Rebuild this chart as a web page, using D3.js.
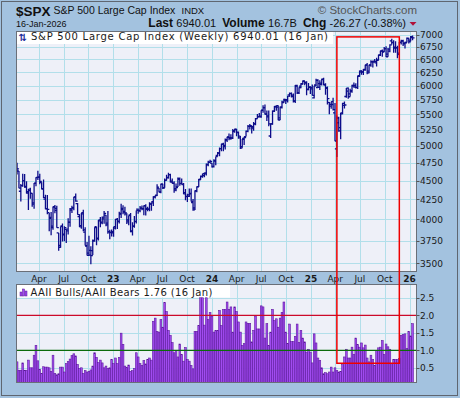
<!DOCTYPE html>
<html>
<head>
<meta charset="utf-8">
<script src="https://cdn.jsdelivr.net/npm/d3@7"></script>
<style>
	body { margin: 0; background: #a3c2df; }
	svg { display: block; }
	.ax { font-family: "DejaVu Sans", sans-serif; font-size: 9px; fill: #1a1a1a; }
	.hd { font-family: "Liberation Sans", Arial, sans-serif; fill: #111; }
</style>
</head>
<body>
<svg width="460" height="398"></svg>
<script>
// data.........................................................................

// weekly S&P 500 bars [open, high, low, close], one row per week (Fridays)
var ohlc2022 = [
	[4669,4749,4582,4662],[4632,4632,4395,4398],[4356,4453,4222,4432],[4432,4595,4415,4500],
	[4500,4590,4401,4419],[4412,4490,4327,4349],[4333,4386,4115,4385],[4364,4402,4257,4329],
	[4327,4328,4157,4204],[4188,4465,4129,4463],[4462,4546,4424,4543],[4541,4637,4506,4546],
	[4547,4593,4450,4488],[4474,4478,4381,4392],[4385,4513,4268,4272],[4253,4309,4124,4132],
	[4130,4308,4063,4123],[4082,4082,3859,4024],[4013,4090,3811,3901],[3919,4158,3876,4158],
	[4151,4177,4074,4109],[4134,4168,3900,3901],[3838,3838,3637,3675],[3695,3913,3669,3912],
	[3920,3950,3739,3825],[3815,3918,3743,3899],[3880,3880,3722,3863],[3883,4012,3819,3962],
	[3965,4140,3911,4130],[4112,4167,4079,4145],[4140,4280,4112,4280],[4282,4325,4218,4228],
	[4195,4203,4057,4058],[4034,4062,3907,3924],[3910,4076,3887,4067],[4083,4119,3857,3873],
	[3848,3906,3693,3693],[3689,3734,3584,3586],[3610,3806,3585,3639],[3588,3685,3491,3583],
	[3638,3763,3590,3752],[3745,3905,3738,3901],[3911,3912,3698,3771],[3779,3993,3751,3993],
	[3982,4029,3906,3965],[3956,4034,3940,4026],[4006,4101,3948,4072],[4052,4052,3918,3934],
	[3954,4101,3828,3852],[3853,3876,3764,3845],[3843,3878,3796,3840]
];
var ohlc2023 = [
	[3853,3907,3795,3895],[3911,4003,3877,3999],[3999,4015,3885,3973],[3978,4094,3949,4071],
	[4065,4195,4015,4136],[4119,4176,4061,4090],[4096,4156,4048,4079],[4066,4073,3944,3970],
	[3992,4048,3928,4046],[4055,4079,3847,3862],[3855,3964,3808,3917],[3917,4039,3899,3971],
	[3975,4110,3949,4109],[4125,4134,4069,4105],[4110,4164,4086,4138],[4139,4170,4113,4133],
	[4130,4170,4049,4169],[4167,4187,4048,4136],[4124,4155,4098,4124],[4126,4213,4099,4192],
	[4190,4213,4104,4205],[4220,4290,4166,4282],[4282,4299,4261,4299],[4304,4448,4293,4410],
	[4397,4400,4342,4348],[4344,4456,4328,4450],[4450,4456,4385,4399],[4405,4527,4401,4505],
	[4502,4579,4502,4536],[4543,4607,4528,4582],[4580,4595,4474,4478],[4492,4527,4458,4464],
	[4460,4490,4335,4370],[4389,4458,4356,4406],[4415,4541,4414,4516],[4530,4542,4430,4457],
	[4460,4527,4448,4450],[4445,4466,4317,4320],[4338,4385,4238,4288],[4285,4324,4216,4309],
	[4289,4394,4282,4327],[4321,4393,4223,4224],[4207,4256,4104,4117],[4140,4366,4114,4358],
	[4365,4420,4342,4415],[4418,4521,4411,4514],[4514,4568,4511,4559],[4554,4595,4537,4595],
	[4569,4610,4546,4604],[4593,4739,4568,4719],[4725,4778,4700,4755],[4758,4793,4751,4770]
];
var ohlc2024 = [
	[4745,4745,4682,4697],[4690,4802,4683,4784],[4772,4842,4714,4840],[4856,4907,4845,4891],
	[4892,4975,4845,4959],[4957,5030,4918,5027],[5026,5048,4920,5006],[4989,5111,4946,5089],
	[5093,5140,5057,5137],[5132,5190,5085,5124],[5112,5180,5094,5117],[5123,5262,5104,5234],
	[5220,5265,5204,5254],[5258,5264,5146,5204],[5211,5222,5107,5123],[5149,5151,4953,4967],
	[4987,5106,4971,5100],[5114,5139,5012,5128],[5142,5239,5142,5223],[5225,5325,5212,5303],
	[5305,5342,5256,5305],[5316,5317,5192,5278],[5298,5375,5234,5347],[5341,5441,5324,5432],
	[5432,5506,5432,5465],[5459,5524,5448,5460],[5471,5570,5446,5567],[5572,5655,5529,5615],
	[5614,5670,5497,5505],[5505,5566,5391,5459],[5476,5566,5306,5346],[5151,5350,5119,5344],
	[5344,5564,5331,5554],[5557,5643,5540,5634],[5630,5651,5560,5648],[5623,5651,5403,5408],
	[5442,5636,5407,5626],[5615,5733,5601,5703],[5711,5767,5697,5738],[5757,5765,5675,5751],
	[5737,5822,5705,5815],[5838,5878,5805,5864],[5857,5879,5790,5808],[5833,5862,5702,5729],
	[5725,6012,5696,5995],[6008,6018,5853,5870],[5875,5972,5853,5969],[5993,6044,5957,6032],
	[6040,6099,6021,6090],[6083,6086,6011,6051],[6064,6085,5832,5931],[5941,6050,5921,5970]
];
var ohlc2025 = [
	[5979,5993,5853,5942],[5969,6021,5827,5827],[5782,6000,5773,5997],[6014,6129,5997,6101],
	[5969,6120,5962,6040],[5970,6101,5924,6026],[6047,6127,6003,6115],[6121,6147,6009,6013],
	[6026,6044,5838,5955],[5968,5987,5667,5770],[5705,5712,5505,5639],[5669,5716,5597,5668],
	[5718,5787,5567,5581],[5527,5695,5069,5074],[4954,5482,4835,5363],[5441,5460,5220,5283],
	[5232,5528,5101,5525],[5510,5700,5505,5687],[5655,5720,5598,5660],[5808,5959,5786,5958],
	[5902,5969,5768,5803],[5855,5944,5809,5912],[5896,6017,5875,6000],[6005,6060,5963,5977],
	[6005,6044,5952,5968],[5970,6187,5943,6173],[6188,6284,6168,6279],[6256,6290,6202,6260],
	[6256,6315,6201,6297],[6304,6395,6281,6389],[6393,6428,6212,6238],[6271,6395,6233,6389],
	[6391,6481,6358,6450],[6456,6478,6343,6467],[6449,6509,6434,6460],[6432,6533,6360,6482],
	[6490,6592,6482,6584],[6588,6672,6567,6664],[6672,6700,6552,6644],[6659,6750,6649,6716],
	[6716,6765,6550,6553],[6606,6731,6551,6664],[6708,6807,6645,6792],[6876,6920,6800,6840],
	[6843,6890,6631,6729],[6744,6870,6631,6734],[6737,6776,6521,6603],[6624,6853,6580,6849],
	[6840,6900,6800,6870],[6880,6901,6770,6827],[6815,6860,6720,6835],[6845,6945,6840,6930]
];
var ohlc2026 = [
	[6928,6940,6820,6858],[6890,6980,6870,6966],[6945,6990,6890,6940]
];

// AAII bulls / AAII bears ratio, same weeks
var aaii2022 = [
	0.67,0.43,0.43,0.64,0.43,0.43,0.72,0.50,0.50,0.86,1.14,0.70,0.46,0.34,0.53,0.52,0.52,
	0.50,0.40,0.86,0.34,0.30,0.33,0.52,0.52,0.38,0.62,0.68,0.75,0.85,0.90,0.84,0.60,0.48,
	0.50,0.34,0.42,0.38,0.40,0.44,0.55,0.93,0.80,0.65,0.72,0.64,0.50,0.55,0.48,0.50,0.74
];
var aaii2023 = [
	0.62,0.78,0.62,0.80,1.49,1.17,0.55,0.51,0.58,0.40,0.42,0.48,0.93,0.81,0.62,0.57,0.71,
	0.61,0.74,0.78,0.72,1.83,1.92,1.54,1.52,1.88,1.66,2.36,2.11,1.57,1.43,1.22,0.93,0.99,
	0.81,1.18,0.88,0.69,1.08,0.74,0.69,0.57,0.47,1.54,1.54,1.71,2.50,2.50,1.72,2.50,1.88,2.08
];
var aaii2024 = [
	1.98,1.52,1.56,1.56,2.14,1.71,2.17,2.17,2.38,2.17,2.24,1.52,2.24,2.11,1.81,1.52,1.14,
	1.19,1.81,1.77,1.77,1.24,1.57,1.98,1.61,1.61,2.27,2.24,1.35,1.76,1.14,1.52,2.17,1.85,
	1.90,1.66,1.92,2.08,2.38,1.52,1.19,1.75,1.25,1.25,1.40,1.75,1.22,1.57,1.35,1.24,0.95,1.03
];
var aaii2025 = [
	0.95,0.64,1.47,1.21,0.78,0.71,0.50,0.33,0.36,0.33,0.38,0.52,0.38,0.50,0.42,0.38,0.40,
	0.59,0.81,1.03,0.78,0.78,1.09,0.88,1.35,1.16,1.09,1.21,1.07,1.15,0.78,0.67,0.86,0.74,
	0.57,1.00,1.07,1.09,1.28,0.88,1.18,1.10,1.03,0.63,0.74,0.74,0.74,0.76,1.43,1.45,1.47,1.05
];
var aaii2026 = [1.54, 1.41, 1.76];

var priceTicks = [3500,3750,4000,4250,4500,4750,5000,5250,5500,5750,6000,6250,6500,6750,7000];
var ratioTicks = [0.5, 1.0, 1.5, 2.0, 2.5];
var ratioLines = [{v: 2.0, color: "#cc0a2a"}, {v: 1.0, color: "#0b6b0b"}];

// layout.......................................................................

var svg = d3.select("svg"),
	L = 16.5, R = 416.5,
	T1 = 31.5, B1 = 271.5,
	T2 = 284.5, B2 = 382.5,
	gridColor = "#b2dfea";

var weeks = d3.timeFriday.range(new Date(2022, 0, 14), new Date(2026, 0, 17)),
	ohlc = [].concat(ohlc2022, ohlc2023, ohlc2024, ohlc2025, ohlc2026),
	aaii = [].concat(aaii2022, aaii2023, aaii2024, aaii2025, aaii2026);

var bars = weeks.map(function(d, i) {
	return {date: d, o: ohlc[i][0], h: ohlc[i][1], l: ohlc[i][2], c: ohlc[i][3], r: aaii[i]};
});

var x = d3.scaleTime()
		.domain([new Date(2023, 0, 1), new Date(2026, 0, 1)])
		.range([113.3, 409.6]),
	y = d3.scaleLog()
		.domain([3500, 7000])
		.range([263.3, 35]),
	yr = d3.scaleLinear()
		.domain([0.5, 2.5])
		.range([367.8, 297.8]);

function bx(d) { return x(d3.timeMonday.floor(d.date)); }

// quarter starts that fall inside the plot
var quarters = d3.timeMonth.every(3).range(x.invert(L), x.invert(R));

// frame and header.............................................................

svg.append("rect")
	.attr("x", 1.5).attr("y", 1.5)
	.attr("width", 456).attr("height", 394)
	.attr("fill", "#a3c2df")
	.attr("stroke", "#5f6670");

svg.append("text").attr("class", "hd")
	.attr("x", 16).attr("y", 15.5)
	.style("font-weight", "bold").style("font-size", "13.5px")
	.text("$SPX");
svg.append("text").attr("class", "hd")
	.attr("x", 53.5).attr("y", 14)
	.style("font-size", "10.5px")
	.text("S&P 500 Large Cap Index");
svg.append("text").attr("class", "hd")
	.attr("x", 181.5).attr("y", 14)
	.style("font-size", "9.5px")
	.text("INDX");
svg.append("text").attr("class", "hd")
	.attr("x", 417).attr("y", 14)
	.attr("text-anchor", "end")
	.style("font-size", "11.5px").style("fill", "#555")
	.text("\u00a9 StockCharts.com");
svg.append("text").attr("class", "hd")
	.attr("x", 16).attr("y", 26.5)
	.style("font-size", "9px")
	.text("16-Jan-2026");

var quote = svg.append("text").attr("class", "hd")
	.attr("x", 406).attr("y", 26.5)
	.attr("text-anchor", "end");
[["Last ", true], ["6940.01  ", false], ["Volume ", true], ["16.7B  ", false],
 ["Chg ", true], ["-26.27 (-0.38%)", false]].forEach(function(p) {
	quote.append("tspan")
		.style("font-weight", p[1] ? "bold" : "normal")
		.style("font-size", p[1] ? "12px" : "11px")
		.attr("xml:space", "preserve")
		.text(p[0]);
});
svg.append("path")
	.attr("d", "M409.5,22 L416.5,22 L413,25.8 Z")
	.attr("fill", "#b0103a");

// price panel..................................................................

svg.append("clipPath").attr("id", "clipTop")
	.append("rect").attr("x", L).attr("y", T1).attr("width", R - L).attr("height", B1 - T1);
svg.append("clipPath").attr("id", "clipBot")
	.append("rect").attr("x", L).attr("y", T2).attr("width", R - L).attr("height", B2 - T2);

var pricePanel = svg.append("g");
pricePanel.append("rect")
	.attr("x", L).attr("y", T1).attr("width", R - L).attr("height", B1 - T1)
	.attr("fill", "#eef0f8");

pricePanel.append("g")
	.selectAll("line").data(quarters).enter().append("line")
		.attr("x1", function(d) { return Math.round(x(d)) + 0.5; })
		.attr("x2", function(d) { return Math.round(x(d)) + 0.5; })
		.attr("y1", T1).attr("y2", B1)
		.attr("stroke", gridColor);
pricePanel.append("g")
	.selectAll("line").data(priceTicks).enter().append("line")
		.attr("x1", L).attr("x2", R)
		.attr("y1", function(d) { return Math.round(y(d)) + 0.5; })
		.attr("y2", function(d) { return Math.round(y(d)) + 0.5; })
		.attr("stroke", gridColor);

// legend box
pricePanel.append("rect")
	.attr("x", L + 0.5).attr("y", T1 + 0.5).attr("width", 316).attr("height", 12)
	.attr("fill", "#ffffff");
pricePanel.append("text")
	.attr("x", 18.5).attr("y", 40.5)
	.style("font", "bold 10px 'DejaVu Sans'").style("fill", "#1a2a9a")
	.text("\u21c5");
pricePanel.append("text").attr("class", "ax")
	.attr("x", 31).attr("y", 40)
	.style("font-size", "10px").style("letter-spacing", "0.75px")
	.text("S&P 500 Large Cap Index (Weekly) 6940.01 (16 Jan)");

pricePanel.append("g").attr("clip-path", "url(#clipTop)")
	.selectAll("path").data(bars).enter().append("path")
		.attr("d", function(d) {
			var cx = bx(d);
			return "M" + cx + "," + y(d.h) + "V" + y(d.l) +
				"M" + (cx - 2) + "," + y(d.o) + "H" + cx +
				"M" + cx + "," + y(d.c) + "H" + (cx + 2);
		})
		.attr("fill", "none")
		.attr("stroke", "#0d0d8a")
		.attr("stroke-width", 1.3);

pricePanel.append("rect")
	.attr("x", L).attr("y", T1).attr("width", R - L).attr("height", B1 - T1)
	.attr("fill", "none").attr("stroke", "#6a6f78");

// right axis
var yAxis = svg.append("g");
yAxis.selectAll("line").data(priceTicks).enter().append("line")
	.attr("x1", R).attr("x2", R + 3)
	.attr("y1", function(d) { return Math.round(y(d)) + 0.5; })
	.attr("y2", function(d) { return Math.round(y(d)) + 0.5; })
	.attr("stroke", "#555");
yAxis.selectAll("text").data(priceTicks).enter().append("text")
	.attr("class", "ax")
	.attr("x", R + 3.5)
	.attr("y", function(d) { return y(d) + 3.3; })
	.text(function(d) { return d; });

// x labels between panels
svg.append("g").selectAll("text").data(quarters).enter().append("text")
	.attr("class", "ax")
	.attr("x", function(d) { return x(d); })
	.attr("y", 281.5)
	.attr("text-anchor", "middle")
	.style("font-weight", function(d) { return d.getMonth() == 0 ? "bold" : "normal"; })
	.text(function(d) { return d.getMonth() == 0 ? d3.timeFormat("%y")(d) : d3.timeFormat("%b")(d); });

// ratio panel..................................................................

var ratioPanel = svg.append("g");
ratioPanel.append("rect")
	.attr("x", L).attr("y", T2).attr("width", R - L).attr("height", B2 - T2)
	.attr("fill", "#eef0f8");
ratioPanel.append("g")
	.selectAll("line").data(quarters).enter().append("line")
		.attr("x1", function(d) { return Math.round(x(d)) + 0.5; })
		.attr("x2", function(d) { return Math.round(x(d)) + 0.5; })
		.attr("y1", T2).attr("y2", B2)
		.attr("stroke", gridColor);
ratioPanel.append("g")
	.selectAll("line").data(ratioTicks).enter().append("line")
		.attr("x1", L).attr("x2", R)
		.attr("y1", function(d) { return Math.round(yr(d)) + 0.5; })
		.attr("y2", function(d) { return Math.round(yr(d)) + 0.5; })
		.attr("stroke", gridColor);

ratioPanel.append("rect")
	.attr("x", L + 0.5).attr("y", T2 + 0.5).attr("width", 213).attr("height", 12.5)
	.attr("fill", "#ffffff");

ratioPanel.append("g").attr("clip-path", "url(#clipBot)")
	.selectAll("rect").data(bars).enter().append("rect")
		.attr("x", function(d) { return bx(d) - 0.9; })
		.attr("width", 1.8)
		.attr("y", function(d) { return yr(d.r); })
		.attr("height", function(d) { return B2 - yr(d.r); })
		.attr("fill", "#a14cf0")
		.attr("stroke", "#5a139a")
		.attr("stroke-width", 0.55);

ratioPanel.append("g")
	.selectAll("line").data(ratioLines).enter().append("line")
		.attr("x1", L).attr("x2", R)
		.attr("y1", function(d) { return yr(d.v); })
		.attr("y2", function(d) { return yr(d.v); })
		.attr("stroke", function(d) { return d.color; })
		.attr("stroke-width", 1.3);

// legend icon and text
var icon = ratioPanel.append("g").attr("transform", "translate(20,288)");
[[0, 4], [2.5, 1], [5, 3]].forEach(function(b) {
	icon.append("rect")
		.attr("x", b[0]).attr("y", b[1]).attr("width", 2).attr("height", 8 - b[1])
		.attr("fill", "#a14cf0").attr("stroke", "#5a139a").attr("stroke-width", 0.5);
});
ratioPanel.append("text").attr("class", "ax")
	.attr("x", 30.5).attr("y", 295.5)
	.style("font-size", "10px").style("letter-spacing", "0.36px")
	.text("AAII Bulls/AAII Bears 1.76 (16 Jan)");

ratioPanel.append("rect")
	.attr("x", L).attr("y", T2).attr("width", R - L).attr("height", B2 - T2)
	.attr("fill", "none").attr("stroke", "#6a6f78");

var rAxis = svg.append("g");
rAxis.selectAll("line").data(ratioTicks).enter().append("line")
	.attr("x1", R).attr("x2", R + 3)
	.attr("y1", function(d) { return Math.round(yr(d)) + 0.5; })
	.attr("y2", function(d) { return Math.round(yr(d)) + 0.5; })
	.attr("stroke", "#555");
rAxis.selectAll("text").data(ratioTicks).enter().append("text")
	.attr("class", "ax")
	.attr("x", R + 3.5)
	.attr("y", function(d) { return yr(d) + 3.3; })
	.text(function(d) { return d.toFixed(1); });

// annotation box over both panels..............................................

svg.append("rect")
	.attr("x", x(new Date(2025, 3, 7)))
	.attr("y", y(6960))
	.attr("width", x(new Date(2025, 10, 24)) - x(new Date(2025, 3, 7)))
	.attr("height", yr(0.63) - y(6960))
	.attr("fill", "none")
	.attr("stroke", "#ee0000")
	.attr("stroke-width", 1.5);
</script>
</body>
</html>
